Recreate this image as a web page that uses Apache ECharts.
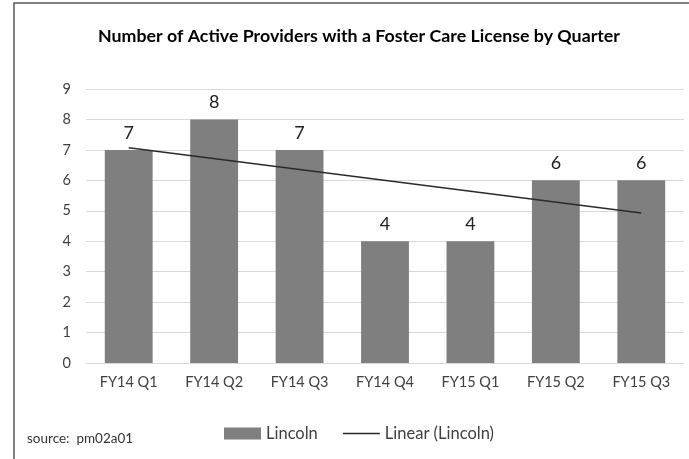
<!DOCTYPE html>
<html>
<head>
<meta charset="utf-8">
<script src="https://cdn.jsdelivr.net/npm/echarts@6/dist/echarts.min.js"></script>
<style>
  html, body { margin: 0; padding: 0; background: #fff; }
  #chart { width: 689px; height: 459px; }
</style>
</head>
<body>
<div id="chart"></div>
<script>
// Quarterly count of active foster-care providers (Lincoln)
const quarters = ['FY14 Q1', 'FY14 Q2', 'FY14 Q3', 'FY14 Q4', 'FY15 Q1', 'FY15 Q2', 'FY15 Q3'];
const lincoln = [7, 8, 7, 4, 4, 6, 6];
// Linear trend endpoints (first and last quarter)
const linearTrend = [7.07, null, null, null, null, null, 4.93];
const yTicks = { min: 0, max: 9, interval: 1 };

const FONT = 'Lato, "Open Sans", sans-serif';
const TEXT = '#404040';
const TREND = '#2a2a2a';

const chart = echarts.init(document.getElementById('chart'), null, { renderer: 'canvas' });
chart.setOption({
  animation: false,
  backgroundColor: '#ffffff',
  textStyle: { fontFamily: FONT },
  title: {
    text: 'Number of Active Providers with a Foster Care License by Quarter',
    left: 354, top: 22, textAlign: 'center',
    textStyle: { fontFamily: FONT, fontWeight: 'bold', fontSize: 17.8, color: '#000' }
  },
  graphic: [
    {
      type: 'rect', silent: true,
      shape: { x: 14, y: 3, width: 700, height: 480 },
      style: { fill: 'none', stroke: '#555', lineWidth: 1.5 }
    },
    {
      type: 'text', left: 27, top: 432, silent: true,
      style: { text: 'source:  pm02a01', fontFamily: FONT, fontSize: 13.5, fill: '#333' }
    }
  ],
  legend: {
    left: 219, top: 420,
    itemWidth: 37, itemHeight: 12, itemGap: 25,
    textStyle: { fontFamily: FONT, fontSize: 16.5, color: TEXT },
    data: [
      { name: 'Lincoln', icon: 'rect' },
      // plain thin stroke for the trend entry
      { name: 'Linear (Lincoln)', icon: 'path://M0,0H34V1.5H0Z', itemStyle: { color: TREND } }
    ]
  },
  grid: { left: 86, right: 5, top: 89, bottom: 96, containLabel: false },
  xAxis: {
    type: 'category',
    data: quarters,
    axisLine: { lineStyle: { color: '#d9d9d9', width: 1 } },
    axisTick: { show: false },
    axisLabel: { color: TEXT, fontSize: 14.5, margin: 12, fontFamily: FONT }
  },
  yAxis: {
    type: 'value',
    min: yTicks.min, max: yTicks.max, interval: yTicks.interval,
    axisLine: { show: false },
    axisTick: { show: false },
    splitLine: { lineStyle: { color: '#d9d9d9', width: 1 } },
    axisLabel: { color: TEXT, fontSize: 14.5, margin: 15, fontFamily: FONT }
  },
  series: [
    {
      name: 'Lincoln',
      type: 'bar',
      data: lincoln,
      barWidth: '56%',
      itemStyle: { color: '#7f7f7f' },
      label: {
        show: true, position: 'top', distance: 8,
        color: '#222', fontSize: 18, fontFamily: FONT
      }
    },
    {
      name: 'Linear (Lincoln)',
      type: 'line',
      data: linearTrend,
      connectNulls: true,
      symbol: 'none',
      z: 5,
      lineStyle: { color: TREND, width: 1.5 },
      itemStyle: { color: TREND }
    }
  ]
});
</script>
</body>
</html>
